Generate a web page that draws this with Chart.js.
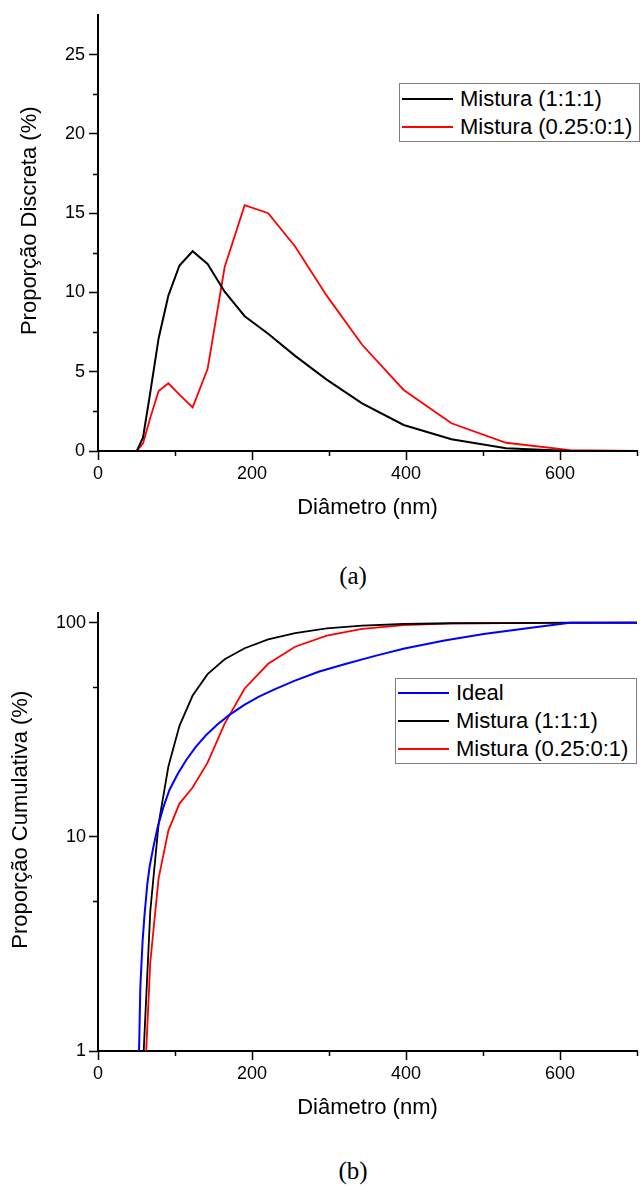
<!DOCTYPE html>
<html>
<head>
<meta charset="utf-8">
<script src="https://cdn.jsdelivr.net/npm/chart.js@4.4.1/dist/chart.umd.min.js"></script>
<style>
  body { margin:0; background:#fff; width:640px; height:1187px; position:relative; overflow:hidden;
         font-family:"Liberation Sans", Arial, sans-serif; }
  canvas { position:absolute; left:0; }
  #chartA { top:0; }
  #chartB { top:590px; }
  .cap { position:absolute; width:100px; left:303px; text-align:center;
         font-family:"Liberation Serif", "Times New Roman", serif; font-size:25px; line-height:30px; }
  .legend { position:absolute; background:#fff; border:1px solid #808080; box-sizing:border-box;
            font-size:22px; color:#000; }
  .legend .row { height:28px; line-height:28px; white-space:nowrap; display:flex; align-items:center; }
  .legend .sw { display:inline-block; width:51px; margin-right:7px; }
</style>
</head>
<body>
<canvas id="chartA" width="640" height="521"></canvas>
<div class="cap" style="top:561px">(a)</div>
<canvas id="chartB" width="640" height="531"></canvas>
<div class="cap" style="top:1156px">(b)</div>
<div class="legend" id="legA" style="left:399px;top:83px;width:241px;height:59px;padding:1px 0 0 2px"></div>
<div class="legend" id="legB" style="left:395px;top:678px;width:242px;height:86px;padding:0 0 0 2px"></div>
<script>
// --- (a) discrete distribution ---
const diam = [0, 50.4, 58.5, 67.9, 78.7, 91.4, 105.8, 122.9, 142.3, 164.5, 190.5, 221, 256, 297, 343, 397, 459, 530, 613, 700];
const discBlack = [0, 0, 0.86, 3.7, 7.1, 9.8, 11.7, 12.6, 11.8, 10.05, 8.5, 7.4, 6.0, 4.5, 3.0, 1.64, 0.74, 0.17, 0, 0];
const discRed   = [0, 0, 0.48, 2.1, 3.78, 4.27, 3.55, 2.75, 5.17, 11.6, 15.5, 15.0, 12.9, 9.8, 6.7, 3.85, 1.75, 0.52, 0.06, 0];

// --- (b) cumulative distribution ---
const cumDiam  = [58.5, 67.9, 78.7, 91.4, 105.8, 122.9, 142.3, 164.5, 190.5, 221, 256, 297, 343, 397, 459, 530, 613, 700];
const cumBlack = [0.86, 4.5, 11.5, 21.3, 33, 45.7, 57.5, 67.5, 76, 83.5, 89.5, 94, 97, 98.6, 99.4, 99.6, 100, 100];
const cumRed   = [0.48, 2.6, 6.4, 10.7, 14.3, 17, 22.2, 33.8, 49.3, 64.3, 77.2, 87, 93.6, 97.5, 99.2, 99.7, 99.8, 100];
const idealDiam = [53.3, 55, 58, 60.6, 64, 67, 72, 77.8, 85, 92.9, 104, 114.4, 127, 140.2, 155, 170.3, 190, 209, 230, 255, 286.5, 320, 360, 398, 450, 501, 555, 613, 700];
const idealCum  = [1, 2, 3.3, 4.4, 6, 7.25, 9, 11.2, 13.8, 16.6, 19.8, 22.8, 26.3, 29.8, 33.5, 37, 41.3, 45.2, 49, 53.5, 59, 64, 70, 75.8, 82.5, 88.5, 94, 100, 100];

// tick labels
const xMajor  = [0, 200, 400, 600];
const yMajorA = [0, 5, 10, 15, 20, 25];
const yTicksB = [1, 5, 10, 50, 100];
const yMajorB = [1, 10, 100];

const labels1 = ['Mistura (1:1:1)', 'Mistura (0.25:0:1)'];
const labels2 = ['Ideal', 'Mistura (1:1:1)', 'Mistura (0.25:0:1)'];

function pts(xs, ys) { return xs.map((x, i) => ({x: x, y: ys[i]})); }

const tickFont  = {family: '"Liberation Sans", Arial, sans-serif', size: 18};
const titleFont = {family: '"Liberation Sans", Arial, sans-serif', size: 22, lineHeight: 1.2};

// short minor ticks, drawn with the scales' own pixel mapping
const minorTicks = {
  id: 'minorTicks',
  afterDraw(chart, args, opts) {
    const c = chart.ctx, a = chart.chartArea;
    c.save();
    c.strokeStyle = '#000';
    c.lineWidth = 1.5;
    ['x', 'y'].forEach(id => {
      const s = chart.scales[id];
      s.ticks.forEach(t => {
        if (opts[id].includes(t.value)) return;
        if (id === 'y' && t.value === s.max) return;
        const p = Math.round(s.getPixelForValue(t.value)) + 0.5;
        c.beginPath();
        if (id === 'x') { c.moveTo(p, a.bottom); c.lineTo(p, a.bottom + 5); }
        else { c.moveTo(a.left, p); c.lineTo(a.left - 5, p); }
        c.stroke();
      });
    });
    c.restore();
  }
};

function xScale() {
  return {
    type: 'linear', min: 0, max: 700,
    ticks: {stepSize: 100, autoSkip: false, maxRotation: 0, color: '#000', font: tickFont, padding: 3,
            callback: v => xMajor.includes(v) ? String(v) : ''},
    grid: {drawOnChartArea: false, tickLength: 9, tickWidth: 1.5,
           tickColor: ctx => xMajor.includes(ctx.tick.value) ? '#000' : 'rgba(0,0,0,0)'},
    border: {display: true, color: '#000', width: 2},
    title: {display: true, text: 'Diâmetro (nm)', color: '#000', font: titleFont, padding: 0},
    afterFit: s => { s.height = 70; }
  };
}

function buildLegend(chart, el) {
  chart.data.datasets.forEach(ds => {
    const row = document.createElement('div');
    row.className = 'row';
    const sw = document.createElement('span');
    sw.className = 'sw';
    sw.style.background = ds.borderColor;
    sw.style.height = '2px';
    row.appendChild(sw);
    row.appendChild(document.createTextNode(ds.label));
    el.appendChild(row);
  });
}

const chartA = new Chart(document.getElementById('chartA'), {
  type: 'line',
  data: {
    datasets: [
      {label: labels1[0], data: pts(diam, discBlack), borderColor: '#000000', borderWidth: 2},
      {label: labels1[1], data: pts(diam, discRed), borderColor: '#ff0000', borderWidth: 1.8}
    ]
  },
  options: {
    responsive: false, animation: false,
    layout: {padding: {top: 15, left: 0, right: 0, bottom: 0}},
    elements: {point: {radius: 0}, line: {tension: 0}},
    plugins: {legend: {display: false}, tooltip: {enabled: false}, minorTicks: {x: xMajor, y: yMajorA}},
    scales: {
      x: xScale(),
      y: {
        type: 'linear', min: 0, max: 27.5,
        ticks: {stepSize: 2.5, autoSkip: false, color: '#000', font: tickFont, padding: 4,
                callback: v => yMajorA.includes(v) ? String(v) : ''},
        grid: {drawOnChartArea: false, tickLength: 9, tickWidth: 1.5,
               tickColor: ctx => yMajorA.includes(ctx.tick.value) ? '#000' : 'rgba(0,0,0,0)'},
        border: {display: true, color: '#000', width: 2},
        title: {display: true, text: '    Proporção Discreta (%)', color: '#000', font: titleFont, padding: {top: 17}},
        afterFit: s => { s.width = 98; }
      }
    }
  },
  plugins: [minorTicks]
});
buildLegend(chartA, document.getElementById('legA'));

const chartB = new Chart(document.getElementById('chartB'), {
  type: 'line',
  data: {
    datasets: [
      {label: labels2[0], data: pts(idealDiam, idealCum), borderColor: '#0000ff', borderWidth: 2},
      {label: labels2[1], data: pts(cumDiam, cumBlack), borderColor: '#000000', borderWidth: 1.8},
      {label: labels2[2], data: pts(cumDiam, cumRed), borderColor: '#ff0000', borderWidth: 1.8}
    ]
  },
  options: {
    responsive: false, animation: false,
    layout: {padding: {top: 23, left: 0, right: 0, bottom: 0}},
    elements: {point: {radius: 0}, line: {tension: 0}},
    plugins: {legend: {display: false}, tooltip: {enabled: false}, minorTicks: {x: xMajor, y: yMajorB}},
    scales: {
      x: xScale(),
      y: {
        type: 'logarithmic', min: 1, max: 111,
        afterBuildTicks: s => { s.ticks = yTicksB.map(v => ({value: v})); },
        ticks: {autoSkip: false, color: '#000', font: tickFont, padding: 3,
                callback: v => yMajorB.includes(v) ? String(v) : ''},
        grid: {drawOnChartArea: false, tickLength: 9, tickWidth: 1.5,
               tickColor: ctx => yMajorB.includes(ctx.tick.value) ? '#000' : 'rgba(0,0,0,0)'},
        border: {display: true, color: '#000', width: 2},
        title: {display: true, text: '    Proporção Cumulativa (%)', color: '#000', font: titleFont, padding: {top: 8}},
        afterFit: s => { s.width = 98; }
      }
    }
  },
  plugins: [minorTicks]
});
buildLegend(chartB, document.getElementById('legB'));
</script>
</body>
</html>
